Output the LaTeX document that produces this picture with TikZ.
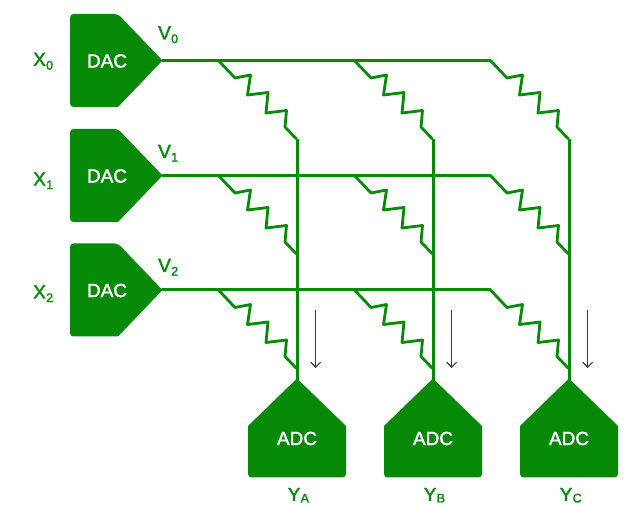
\documentclass[tikz,border=0pt]{standalone}
\usepackage{fontspec}
\newfontfamily\medfont[RawFeature={embolden=1.8}]{Liberation Sans}
\definecolor{gfg}{HTML}{078A07}
\definecolor{flowgray}{HTML}{3A3A3A}
\newcommand{\lblsub}[3][3.6pt]{#2\kern0.3pt\raisebox{-#1}{\fontsize{12.5}{13}\selectfont #3}}
\usetikzlibrary{arrows.meta}
\tikzset{
  wire/.style={draw=gfg,line width=3pt,line join=round},
  resistor/.style={draw=gfg,line width=2.8pt,line join=round},
  block/.style={fill=gfg},
  blocktext/.style={text=white,font=\medfont\fontsize{19}{20}\selectfont,inner sep=0pt},
  siglabel/.style={text=gfg,font=\medfont\fontsize{19}{20}\selectfont,inner sep=0pt,anchor=base west},
  flow/.style={draw=flowgray,line width=1.1pt,-{Straight Barb[length=5pt,width=10pt]}},
}
\begin{document}
\begin{tikzpicture}[x=1pt,y=-1pt]
\useasboundingbox (0,0) rectangle (633,505);
% DACs, voltage labels, row wires
\foreach \i/\y/\vb/\xb in {0/60.5/39.5/66,1/175.5/158/185.5,2/290/272/298.5}{
  \fill[block] (118,\y-46.5) -- (162.5,\y) -- (118,\y+46.5)
     [rounded corners=3.5pt] -- (70,\y+46.5) -- (70,\y-46.5) -- cycle;
  \node[blocktext] (dac\i) at (107,\y+0.5) {DAC};
  \coordinate (tip\i) at (162,\y);
  \coordinate (end\i) at (490.5,\y);
  \node[siglabel] (x\i) at (33,\xb) {\lblsub{X}{\i}};
  \node[siglabel] (v\i) at (158,\vb) {\lblsub{V}{\i}};
  \draw[wire] (tip\i) -- (end\i);
}
% ADCs, column wires, arrows, labels
\foreach \c/\x/\L in {a/297/A,b/433/B,c/569/C}{
  \fill[block] (\x,378.5) -- (\x+49,426)
     [rounded corners=3.5pt] -- (\x+49,477.5) -- (\x-49,477.5)
     [sharp corners] -- (\x-49,426) -- cycle;
  \node[blocktext] (adc\c) at (\x,438.5) {ADC};
  \coordinate (top\c) at (\x,139);
  \coordinate (tip\c) at (\x,381);
  \draw[wire] (top\c) -- (tip\c);
  \node[siglabel] (y\c) at (\x-9.5,501) {\lblsub[1.5pt]{Y}{\L}};
  \coordinate (fa\c) at (\x+18.7,310);
  \coordinate (fb\c) at (\x+18.7,368);
  \draw[flow] (fa\c) -- (fb\c);
}
% Resistors
\foreach \x in {218.5,354.5,490.5}{
  \foreach \y in {60.5,175.5,290}{
    \draw[resistor] (\x,\y)
      -- ++(16.5,17.5) -- ++(15.5,-3) -- ++(-3,20) -- ++(20.5,-2.5)
      -- ++(-2,20.5) -- ++(20.5,-2.5) -- ++(-1.5,16.5) -- ++(11.5,12);
  }
}
\end{tikzpicture}
\end{document}
